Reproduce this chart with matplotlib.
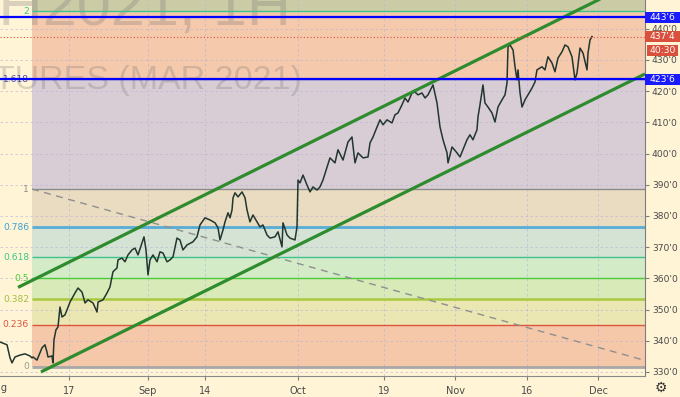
import matplotlib
matplotlib.use("Agg")
import matplotlib.pyplot as plt
from matplotlib import font_manager
from matplotlib.patches import Rectangle
from matplotlib.transforms import blended_transform_factory

# ---------------- data ----------------
# x = trading-day index (0 = Aug 17), y = price in cents
days = [-9.65, -8.67, -8.25, -7.97, -7.55, -6.85, -6.15, -5.45, -5.17, -5.03,
        -4.48, -4.06, -3.78, -3.36, -3.08, -2.94, -2.38, -2.24, -2.10, -1.82,
        -1.54, -1.26, -0.98, -0.56, -0.28, 0.14, 0.84, 1.26, 1.82, 2.24,
        2.66, 3.36, 3.92, 4.06, 4.76, 5.31, 5.73, 6.01, 6.15, 6.71,
        6.85, 7.41, 7.83, 8.25, 8.81, 9.23, 9.65, 10.21, 10.49, 10.77,
        11.05, 11.33, 11.75, 12.31, 12.73, 13.15, 13.71, 14.13, 14.55, 15.10,
        15.52, 15.94, 16.50, 17.34, 17.90, 18.32, 19.02, 19.72, 20.42, 20.84,
        21.12, 21.54, 21.82, 22.24, 22.52, 22.80, 22.94, 23.22, 23.64, 24.20,
        24.62, 24.90, 25.31, 25.73, 26.29, 26.71, 27.13, 27.69, 28.11, 28.81,
        29.23, 29.79, 29.93, 30.49, 30.91, 31.61, 31.89, 32.03, 32.31, 32.73,
        33.29, 33.71, 34.13, 34.69, 35.10, 35.52, 36.08, 36.50, 37.20, 37.62,
        38.32, 39.02, 39.58, 40.00, 40.42, 41.12, 41.82, 42.10, 42.52, 43.08,
        43.50, 43.92, 44.48, 45.17, 45.59, 46.01, 46.57, 46.99, 47.41, 47.97,
        48.39, 48.81, 49.37, 49.79, 50.21, 50.77, 50.91, 51.47, 51.89, 52.31,
        52.87, 53.01, 53.57, 54.27, 54.69, 55.10, 55.66, 56.08, 56.50, 57.06,
        57.20, 57.48, 57.90, 58.18, 58.60, 59.16, 59.58, 60.00, 60.56, 60.98,
        61.26, 61.40, 61.68, 62.10, 62.38, 62.66, 62.80, 63.08, 63.36, 63.78,
        64.20, 64.76, 65.17, 65.45, 66.15, 66.57, 66.99, 67.55, 67.97, 68.39,
        68.95, 69.37, 69.79, 70.35, 70.77, 71.05, 71.47, 71.89, 72.45, 72.59,
        72.87, 73.15]
prices = [339.6, 338.7, 334.5, 332.9, 334.8, 335.4, 335.8, 335.1, 334.5, 334.8,
          333.8, 336.1, 337.7, 338.7, 336.4, 334.8, 335.1, 332.9, 340.3, 343.5,
          344.4, 350.8, 347.6, 348.3, 349.9, 352.4, 355.3, 356.9, 355.6, 352.1,
          353.1, 352.1, 349.2, 352.4, 353.1, 355.3, 357.2, 360.4, 362.1, 363.3,
          365.9, 366.5, 365.3, 367.5, 369.1, 369.7, 367.5, 371.3, 373.3, 369.1,
          361.1, 365.9, 367.5, 365.3, 368.5, 368.1, 365.3, 365.9, 366.9, 372.9,
          372.3, 369.1, 370.7, 371.7, 373.3, 377.1, 379.4, 378.7, 377.8, 376.2,
          372.3, 375.5, 378.1, 381.0, 379.4, 381.9, 385.8, 387.4, 386.1, 387.7,
          385.8, 381.9, 378.1, 380.3, 378.1, 376.5, 377.1, 373.9, 372.9, 373.3,
          374.9, 370.1, 377.8, 373.9, 372.9, 372.3, 376.5, 391.5, 390.6, 393.1,
          389.9, 387.7, 389.3, 388.3, 389.3, 391.5, 395.5, 398.6, 397.0, 401.2,
          397.9, 403.7, 405.3, 397.0, 400.2, 398.6, 398.9, 403.4, 405.3, 408.5,
          410.8, 409.2, 410.8, 409.8, 412.4, 413.0, 415.6, 417.8, 416.5, 419.4,
          419.7, 418.8, 419.4, 417.8, 418.8, 421.3, 422.0, 416.2, 408.5, 404.4,
          400.2, 397.0, 402.1, 400.2, 398.9, 401.2, 404.4, 406.0, 404.4, 407.6,
          411.7, 415.6, 422.0, 416.2, 414.9, 413.0, 410.1, 414.9, 417.2, 418.8,
          422.6, 434.2, 434.8, 433.2, 427.8, 423.6, 426.8, 419.4, 414.9, 417.2,
          418.8, 421.0, 422.9, 426.8, 427.8, 426.8, 431.0, 429.0, 426.2, 430.6,
          432.6, 434.8, 434.2, 431.0, 423.6, 425.8, 433.8, 432.2, 426.8, 432.2,
          436.4, 437.5]

tick_days = [0, 11, 19, 32, 44, 54, 64, 74]
tick_labels = ["17", "Sep", "14", "Oct", "19", "Nov", "16", "Dec"]
price_ticks = [330, 340, 350, 360, 370, 380, 390, 400, 410, 420, 430, 440]

fib_levels = [0, 0.236, 0.382, 0.5, 0.618, 0.786, 1, 1.618, 2, 2.618]
fib_labels = ["0", "0.236", "0.382", "0.5", "0.618", "0.786", "1", "1.618", "2"]
fib_price_0 = 331.6
fib_price_1 = 388.6
fib_start_day = -5.17
fib_end_day = 83.8

upper_channel_days = [-7.13, 74.27]
upper_channel_prices = [357.1, 449.5]
lower_channel_days = [-3.92, 80.56]
lower_channel_prices = [330.0, 425.5]

hline_prices = [443.75, 423.75]
hline_labels = ["443'6", "423'6"]
last_price = 437.5
last_label = "437'4"
countdown_label = "40:30"

watermark_lines = ["ZCH2021, 1H", "CORN FUTURES (MAR 2021)"]

# ---------------- styles ----------------
CREAM = "#FFF4D6"
line_colors = ["#a8a8a8", "#e0533d", "#a9c83f", "#4ccb3a", "#3dc48e",
               "#58acd6", "#8c8c8c", "#3434c4", "#3dc48e"]
line_widths = [2.0, 1.0, 1.8, 1.0, 1.0, 2.0, 1.0, 1.0, 1.0]
label_colors = ["#9a9a9a", "#e0533d", "#a2c03a", "#4ccb3a", "#3dc48e",
                "#3f9fd3", "#8c8c8c", "#4a4aa8", "#3dc48e"]
band_colors = ["#F5C8AA", "#EAE7B3", "#D7EAB8", "#D3EBC7", "#D5E3D4",
               "#EADCC0", "#D8CDD4", "#F5C9AC", "#CBCCA6"]

# pick a narrow face for the watermark if one is installed
installed = {(f.name, str(f.stretch)) for f in font_manager.fontManager.ttflist}
names = {n for n, _ in installed}
wm_family = ["Liberation Sans", "DejaVu Sans"]
wm_sizes = (44, 24.5)
if "Liberation Sans Narrow" in names:
    wm_family = ["Liberation Sans Narrow", "DejaVu Sans"]
    wm_sizes = (52, 29)

W, H = 680, 397
fig = plt.figure(figsize=(W / 100, H / 100), dpi=100)
fig.patch.set_facecolor(CREAM)
ax = fig.add_axes([0, 21 / H, 645 / W, 376 / H])
ax.set_facecolor(CREAM)
ax.set_xlim(-9.65, 80.56)
ax.set_ylim(328.7, 449.2)


def fib_price(lv):
    return fib_price_0 + lv * (fib_price_1 - fib_price_0)


# bands
for i in range(len(fib_levels) - 1):
    ax.fill_between([fib_start_day, fib_end_day + 50],
                    fib_price(fib_levels[i]), fib_price(fib_levels[i + 1]),
                    color=band_colors[i], lw=0, zorder=0.6)

# watermark (symbol line is larger, description line smaller)
ax.text(291 / W, 1 - 25 / H, watermark_lines[0], transform=fig.transFigure,
        ha="right", va="baseline", color="#6f6f6f", alpha=0.26, zorder=0.8,
        clip_on=True, family=wm_family, fontsize=wm_sizes[0])
ax.text(302 / W, 1 - 89 / H, watermark_lines[1], transform=fig.transFigure,
        ha="right", va="baseline", color="#6f6f6f", alpha=0.26, zorder=0.8,
        clip_on=True, family=wm_family, fontsize=wm_sizes[1])

# fib level lines + labels
lbl_tr = blended_transform_factory(fig.transFigure, ax.transData)
for i, lab in enumerate(fib_labels):
    p = fib_price(fib_levels[i])
    ax.plot([fib_start_day, fib_end_day + 50], [p, p], color=line_colors[i],
            lw=line_widths[i], zorder=2, solid_capstyle="butt")
    ax.text(29 / W, p, lab, transform=lbl_tr, ha="right", va="center",
            fontsize=6.6, color=label_colors[i], zorder=2.5)

# fib trend line (dashed)
ax.plot([fib_start_day, fib_end_day], [fib_price_1, fib_price_0],
        color="#8f8f8f", lw=1.0, ls=(0, (5, 4)), zorder=2.1)

# ticks and grid
ax.set_xticks(tick_days)
ax.set_xticklabels(tick_labels)
ax.set_yticks(price_ticks)
ax.set_yticklabels([f"{p}'0" for p in price_ticks])
ax.grid(True, color="#b7b2d8", lw=0.6, ls=(0, (3, 3)), alpha=0.7)

# price path
ax.plot(days, prices, color="#22362f", lw=1.1, zorder=3)

# channel
ax.plot(upper_channel_days, upper_channel_prices, color="#2e8b2e", lw=2.3,
        zorder=4, solid_capstyle="butt")
ax.plot(lower_channel_days, lower_channel_prices, color="#2e8b2e", lw=2.3,
        zorder=4, solid_capstyle="butt")

# horizontal lines
for p in hline_prices:
    ax.axhline(p, color="#0000ff", lw=1.6, zorder=4.5)
ax.axhline(last_price, color="#e0503a", lw=0.8, ls=(0, (1, 2)), zorder=4.4)

# axes styling
ax.yaxis.tick_right()
for s in ["top", "left"]:
    ax.spines[s].set_visible(False)
ax.spines["right"].set_color("#7d7d7d")
ax.spines["bottom"].set_color("#8a8a8a")
ax.tick_params(axis="y", length=3, color="#7d7d7d", labelsize=6.6,
               labelcolor="#4a4a4a", pad=2)
ax.tick_params(axis="x", length=3, color="#7d7d7d", labelsize=7,
               labelcolor="#4a4a4a", pad=4)

# price-scale boxes
box_tr = blended_transform_factory(fig.transFigure, ax.transData)
unit = (449.2 - 328.7) / 376.0  # price per pixel


def price_box(p, text, color, offset_px=0.0, x0=645, x1=680, h_px=11):
    c = p - offset_px * unit
    fig.add_artist(Rectangle((x0 / W, c - h_px / 2 * unit), (x1 - x0) / W,
                             h_px * unit, transform=box_tr, facecolor=color,
                             edgecolor="none", zorder=5))
    fig.text((x0 + x1) / 2 / W, c, text, transform=box_tr, ha="center",
             va="center", fontsize=6.6, color="white", zorder=6)


for p, t in zip(hline_prices, hline_labels):
    price_box(p, t, "#1a1aff")
price_box(last_price, last_label, "#d9503c")
price_box(last_price, countdown_label, "#d9503c", offset_px=14, x0=647, x1=678)

# cut-off month label at left edge and settings icon
fig.text(8 / W, 1 - 388 / H, "Aug", ha="right", va="center", fontsize=7,
         color="#4a4a4a")
fig.text(661 / W, 1 - 388 / H, "\u2699", ha="center", va="center",
         fontsize=10, color="#333333", family="DejaVu Sans")

fig.savefig("out.png", dpi=100, facecolor=CREAM)
